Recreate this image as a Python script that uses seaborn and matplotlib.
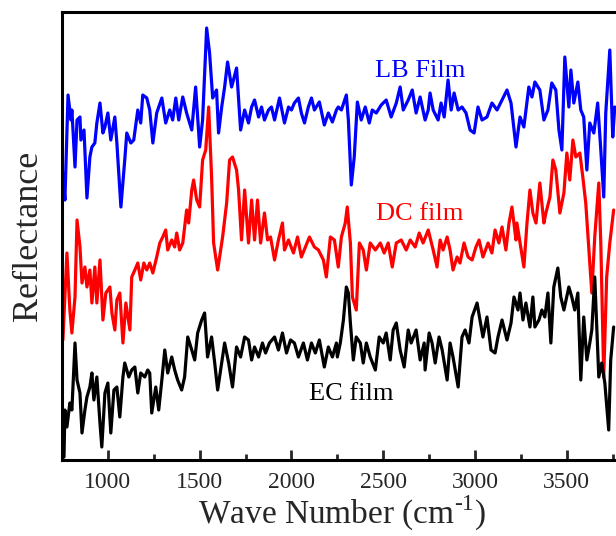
import numpy as np
import pandas as pd
import seaborn as sns
import matplotlib.pyplot as plt
from matplotlib.ticker import MultipleLocator

# LB film (blue)
lb_wn = [755, 766, 783, 799, 804, 815, 821, 832, 848, 853, 870, 886, 902, 913, 929, 940, 957, 973, 984, 1000,
         1016, 1038, 1049, 1071, 1092, 1103, 1125, 1141, 1163, 1179, 1190, 1212, 1228, 1245, 1266, 1294, 1315, 1337,
         1353, 1370, 1386, 1408, 1429, 1457, 1478, 1500, 1516, 1538, 1554, 1571, 1592, 1603, 1620, 1636, 1652, 1674,
         1701, 1723, 1745, 1766, 1783, 1799, 1821, 1837, 1853, 1875, 1891, 1908, 1935, 1962, 1984, 2000, 2016, 2038,
         2054, 2071, 2092, 2109, 2125, 2152, 2179, 2201, 2223, 2245, 2255, 2272, 2299, 2310, 2326, 2342, 2359, 2380,
         2402, 2424, 2440, 2462, 2489, 2516, 2543, 2571, 2592, 2609, 2636, 2658, 2679, 2701, 2728, 2745, 2755, 2772,
         2799, 2815, 2832, 2853, 2870, 2886, 2908, 2929, 2951, 2973, 2995, 3016, 3038, 3065, 3092, 3120, 3147, 3174,
         3196, 3223, 3245, 3266, 3293, 3310, 3326, 3353, 3375, 3397, 3418, 3440, 3457, 3473, 3489, 3511, 3522, 3538,
         3560, 3576, 3592, 3609, 3625, 3647, 3668, 3685, 3701, 3712, 3734, 3750, 3761]
lb_refl = [287, 260, 365, 340, 350, 313, 293, 340, 343, 320, 330, 262, 303, 313, 317, 337, 357, 327, 333, 347,
           320, 343, 317, 253, 300, 327, 317, 320, 350, 337, 365, 362, 350, 317, 347, 362, 337, 350,
           340, 362, 340, 363, 347, 330, 373, 313, 340, 432, 407, 362, 370, 327, 353, 373, 398, 373,
           392, 330, 350, 337, 353, 360, 343, 353, 340, 350, 353, 340, 362, 337, 353, 350, 357, 362,
           347, 337, 353, 362, 350, 358, 335, 347, 338, 350, 353, 350, 365, 340, 275, 303, 358, 340,
           353, 337, 350, 347, 355, 360, 343, 357, 373, 350, 360, 370, 347, 363, 340, 350, 367, 350,
           340, 357, 343, 380, 350, 367, 350, 353, 347, 330, 327, 353, 340, 343, 357, 350, 360, 370,
           357, 313, 343, 333, 373, 363, 378, 370, 340, 350, 377, 370, 330, 310, 403, 353, 390, 357,
           378, 350, 343, 290, 337, 327, 357, 310, 263, 347, 410, 323, 353]

# DC film (red)
dc_wn = [755, 777, 793, 804, 821, 832, 848, 859, 875, 886, 902, 913, 929, 940, 957, 973, 989, 1011, 1022, 1038,
         1049, 1065, 1082, 1098, 1120, 1130, 1147, 1163, 1179, 1196, 1212, 1228, 1245, 1266, 1283, 1299, 1315, 1326,
         1348, 1364, 1375, 1391, 1408, 1429, 1440, 1457, 1467, 1484, 1500, 1516, 1533, 1549, 1565, 1576, 1598, 1625,
         1647, 1663, 1679, 1701, 1712, 1728, 1745, 1766, 1783, 1799, 1815, 1832, 1853, 1870, 1886, 1908, 1929, 1951,
         1962, 1984, 2011, 2033, 2054, 2076, 2098, 2125, 2147, 2174, 2190, 2212, 2234, 2255, 2272, 2293, 2304, 2321,
         2332, 2353, 2370, 2391, 2408, 2429, 2457, 2484, 2505, 2527, 2549, 2571, 2598, 2625, 2647, 2674, 2696, 2717,
         2745, 2772, 2793, 2810, 2826, 2848, 2864, 2880, 2902, 2918, 2940, 2962, 2984, 3005, 3022, 3043, 3071, 3092,
         3109, 3130, 3147, 3168, 3185, 3201, 3223, 3228, 3245, 3266, 3283, 3299, 3315, 3332, 3353, 3375, 3386, 3408,
         3424, 3440, 3462, 3484, 3500, 3516, 3533, 3549, 3571, 3587, 3603, 3620, 3636, 3652, 3674, 3685, 3701, 3717,
         3734, 3755]
dc_refl = [120, 207, 150, 127, 163, 240, 213, 177, 193, 173, 190, 157, 193, 157, 200, 140, 167, 173, 147, 130,
           160, 167, 117, 157, 130, 183, 190, 197, 180, 197, 190, 197, 187, 203, 217, 223, 230, 210,
           220, 213, 227, 210, 217, 250, 237, 270, 280, 260, 253, 300, 310, 353, 283, 217, 190, 223,
           257, 300, 303, 290, 270, 220, 270, 217, 260, 220, 260, 217, 247, 220, 223, 200, 220, 237,
           210, 220, 207, 223, 203, 213, 223, 213, 210, 200, 183, 223, 220, 193, 223, 237, 253, 217,
           163, 150, 217, 210, 190, 217, 210, 217, 207, 217, 193, 217, 220, 210, 220, 213, 227, 217,
           230, 210, 193, 220, 210, 223, 210, 190, 203, 197, 217, 203, 200, 213, 220, 203, 217, 207,
           230, 217, 233, 210, 237, 253, 220, 237, 217, 193, 237, 270, 247, 237, 277, 237, 247, 263,
           300, 290, 247, 267, 307, 280, 320, 303, 307, 283, 257, 210, 167, 223, 277, 217, 83, 183,
           217, 250]

# EC film (black)
ec_wn = [761, 766, 777, 793, 804, 821, 832, 848, 859, 875, 886, 902, 913, 924, 940, 957, 967, 984, 1000, 1016,
         1033, 1049, 1065, 1082, 1092, 1114, 1130, 1147, 1163, 1179, 1201, 1217, 1228, 1239, 1261, 1277, 1294, 1310,
         1326, 1348, 1364, 1380, 1402, 1418, 1435, 1457, 1473, 1489, 1511, 1527, 1543, 1565, 1582, 1598, 1620, 1636,
         1658, 1679, 1701, 1723, 1745, 1766, 1783, 1799, 1821, 1842, 1859, 1880, 1908, 1929, 1951, 1973, 1995, 2016,
         2038, 2065, 2087, 2109, 2130, 2152, 2179, 2201, 2223, 2245, 2250, 2266, 2283, 2299, 2310, 2321, 2337, 2353,
         2375, 2391, 2408, 2429, 2457, 2478, 2500, 2516, 2538, 2554, 2571, 2592, 2614, 2636, 2652, 2679, 2701, 2723,
         2728, 2750, 2766, 2783, 2804, 2821, 2848, 2864, 2880, 2908, 2929, 2946, 2967, 2984, 3011, 3027, 3043, 3065,
         3087, 3109, 3125, 3147, 3174, 3196, 3212, 3234, 3245, 3261, 3277, 3299, 3315, 3326, 3348, 3364, 3380, 3397,
         3413, 3429, 3451, 3467, 3484, 3511, 3527, 3543, 3560, 3576, 3592, 3609, 3625, 3636, 3652, 3674, 3690, 3707,
         3728, 3739, 3755]
ec_refl = [3, 50, 33, 57, 50, 117, 80, 67, 27, 50, 63, 73, 87, 60, 83, 37, 13, 67, 77, 27,
           70, 73, 43, 83, 97, 83, 90, 93, 67, 87, 83, 90, 87, 47, 73, 50, 80, 110,
           87, 103, 90, 80, 70, 83, 123, 110, 100, 127, 140, 147, 103, 123, 97, 70, 97, 117,
           97, 73, 113, 103, 123, 120, 100, 113, 103, 117, 107, 117, 123, 110, 127, 107, 120, 117,
           103, 117, 100, 117, 107, 120, 93, 113, 103, 117, 103, 117, 140, 173, 167, 137, 100, 123,
           117, 97, 117, 103, 90, 123, 117, 127, 100, 130, 137, 110, 93, 130, 117, 130, 100, 117,
           90, 127, 117, 97, 123, 110, 80, 117, 103, 73, 123, 130, 117, 143, 157, 140, 123, 143,
           110, 107, 123, 140, 120, 137, 163, 150, 167, 140, 157, 133, 163, 133, 140, 150, 143, 167,
           117, 173, 192, 163, 150, 173, 163, 150, 167, 80, 143, 100, 117, 130, 183, 83, 97, 77,
           30, 100, 133]

labels = ['LB Film', 'DC film', 'EC film']
colors = ['#0000ff', '#ff0000', '#000000']
xticks = [1000, 1500, 2000, 2500, 3000, 3500]

df = pd.concat([
    pd.DataFrame({'wn': lb_wn, 'refl': lb_refl, 'film': labels[0]}),
    pd.DataFrame({'wn': dc_wn, 'refl': dc_refl, 'film': labels[1]}),
    pd.DataFrame({'wn': ec_wn, 'refl': ec_refl, 'film': labels[2]}),
])

sns.set_style('ticks')
plt.rcParams['font.family'] = ['Liberation Serif', 'DejaVu Serif']
plt.rcParams['mathtext.fontset'] = 'custom'
plt.rcParams['mathtext.rm'] = 'Liberation Serif'

fig = plt.figure(figsize=(6.16, 5.36), dpi=100)
# axes runs a little past the right edge of the figure (right spine cut off)
ax = fig.add_axes([0.1006, 0.1418, 0.909, 0.8358])

sns.lineplot(data=df, x='wn', y='refl', hue='film', palette=dict(zip(labels, colors)),
             estimator=None, linewidth=2.3, legend=False, ax=ax)

ax.set_xlim(750, 3800)
ax.set_ylim(0, 448)
ax.set_xticks(xticks)
ax.xaxis.set_minor_locator(MultipleLocator(250))
ax.set_yticks([])
ax.tick_params(axis='x', which='major', direction='in', length=7, width=2, labelsize=17, pad=9)
ax.tick_params(axis='x', which='minor', direction='in', length=4, width=2)
for s in ax.spines.values():
    s.set_linewidth(2.2)
    s.set_color('black')

ax.set_xlabel('Wave Number (cm$^{\\text{-}1}$)', fontsize=24, labelpad=0)
ax.set_ylabel('Reflectance', fontsize=26, labelpad=12)

# curve labels
ax.text(2700, 383, labels[0], color=colors[0], fontsize=19, ha='center', va='baseline')
ax.text(2700, 240, labels[1], color=colors[1], fontsize=19, ha='center', va='baseline')
ax.text(2324, 60, labels[2], color=colors[2], fontsize=19, ha='center', va='baseline')

plt.savefig('out.png', dpi=100)
